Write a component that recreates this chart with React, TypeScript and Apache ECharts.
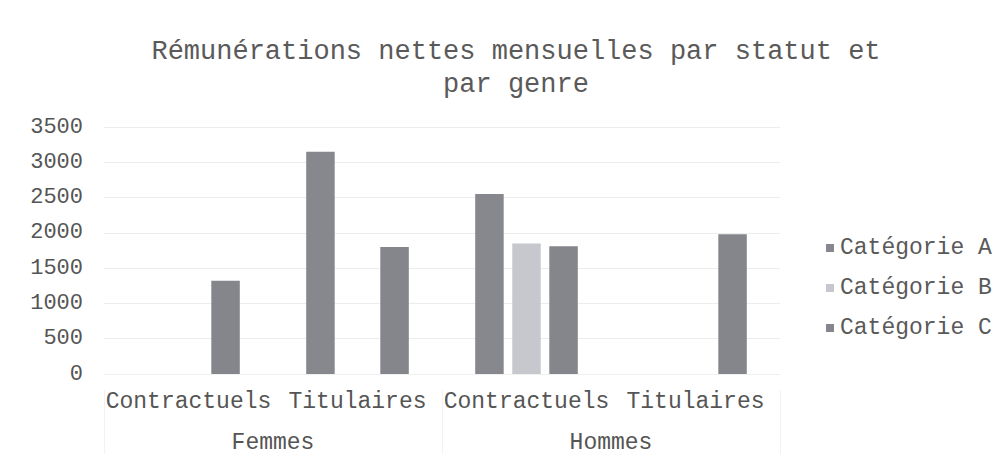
import React, { useEffect, useRef } from "react";
import * as echarts from "echarts";

const titleText = "Rémunérations nettes mensuelles par statut et\npar genre";
const statuts = ["Contractuels", "Titulaires", "Contractuels", "Titulaires"];
const genres = ["Femmes", "Hommes"];
const seriesNames = ["Catégorie A", "Catégorie B", "Catégorie C"];
const catA: (number | null)[] = [null, 3150, 2550, null];
const catB: (number | null)[] = [null, null, 1850, null];
const catC: (number | null)[] = [1320, 1800, 1810, 1980];
const colors = ["#86888e", "#c6c8cd", "#84868b"];

const FONT = "'Liberation Mono', 'DejaVu Sans Mono', monospace";

export default function App() {
  const ref = useRef<HTMLDivElement>(null);
  useEffect(() => {
    document.body.style.margin = "0";
    if (!ref.current) return;
    const chart = echarts.init(ref.current, undefined, { renderer: "svg" });
    const values = [catA, catB, catC];
    chart.setOption({
      animation: false,
      backgroundColor: "#ffffff",
      title: {
        text: titleText,
        left: 511,
        top: 30,
        textAlign: "center",
        textStyle: {
          fontFamily: FONT,
          fontSize: 27,
          fontWeight: "normal",
          color: "#5a5a5a",
          lineHeight: 33,
        },
      },
      legend: {
        orient: "vertical",
        left: 821,
        top: 231,
        itemWidth: 8,
        itemHeight: 8,
        itemGap: 16,
        icon: "rect",
        data: seriesNames,
        textStyle: {
          fontFamily: FONT,
          fontSize: 23,
          color: "#595959",
          lineHeight: 24,
          padding: [0, 0, 0, 1],
        },
      },
      grid: { left: 104, right: 225, top: 127, bottom: 91, containLabel: false },
      xAxis: [
        {
          type: "category",
          data: statuts,
          position: "bottom",
          axisLine: { show: true, lineStyle: { color: "#f0f0f0" } },
          axisTick: { show: false },
          axisLabel: {
            interval: 0,
            margin: 16,
            fontFamily: FONT,
            fontSize: 23,
            color: "#555555",
          },
        },
        {
          type: "category",
          data: genres,
          position: "bottom",
          offset: 16,
          axisLine: { show: false },
          axisTick: { show: true, length: 64, lineStyle: { color: "#f2f2f2" } },
          axisLabel: {
            interval: 0,
            margin: 41,
            fontFamily: FONT,
            fontSize: 23,
            color: "#555555",
          },
        },
      ],
      yAxis: {
        type: "value",
        min: 0,
        max: 3500,
        interval: 500,
        axisLine: { show: false },
        axisTick: { show: false },
        splitLine: { lineStyle: { color: "#ececec" } },
        axisLabel: {
          margin: 21,
          fontFamily: FONT,
          fontSize: 22,
          color: "#555555",
          formatter: (v: number) => String(v),
        },
      },
      series: seriesNames.map((name, i) => ({
        name,
        type: "bar",
        xAxisIndex: 0,
        data: values[i],
        barWidth: 28.5,
        barGap: "30%",
        itemStyle: { color: colors[i] },
      })),
    });
    return () => chart.dispose();
  }, []);
  return <div ref={ref} style={{ width: 1005, height: 465 }} />;
}
